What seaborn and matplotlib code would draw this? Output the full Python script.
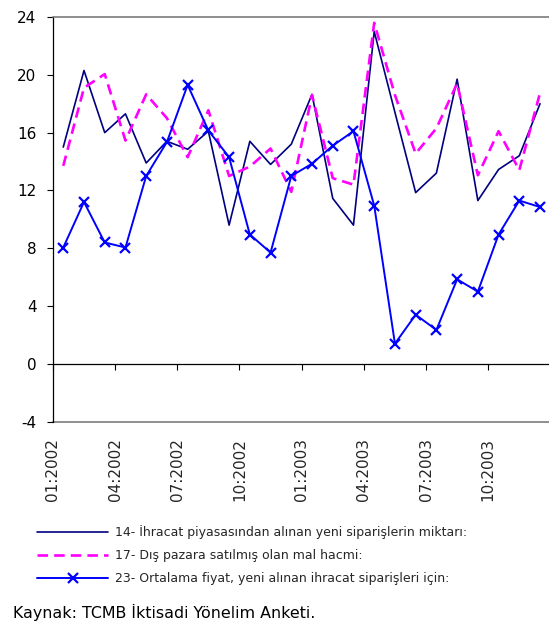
import matplotlib
matplotlib.use("Agg")
import matplotlib.pyplot as plt
import seaborn as sns
import pandas as pd
import numpy as np

# Monthly survey balances, January 2002 - December 2003
months = ["01:2002", "02:2002", "03:2002", "04:2002", "05:2002", "06:2002",
          "07:2002", "08:2002", "09:2002", "10:2002", "11:2002", "12:2002",
          "01:2003", "02:2003", "03:2003", "04:2003", "05:2003", "06:2003",
          "07:2003", "08:2003", "09:2003", "10:2003", "11:2003", "12:2003"]

new_export_orders = [15.0, 20.3, 16.0, 17.3, 13.9, 15.4, 14.85, 16.1, 9.6, 15.4, 13.8, 15.2,
                     18.65, 11.45, 9.6, 23.0, 17.4, 11.85, 13.2, 19.7, 11.3, 13.45, 14.4, 18.0]
export_volume = [13.7, 19.1, 20.05, 15.45, 18.65, 17.0, 14.3, 17.55, 13.0, 13.65, 14.9, 11.9,
                 18.6, 12.85, 12.4, 23.6, 18.6, 14.55, 16.3, 19.4, 13.05, 16.1, 13.4, 18.75]
avg_export_price = [8.05, 11.2, 8.4, 8.05, 13.0, 15.35, 19.3, 16.15, 14.3, 8.95, 7.7, 13.0,
                    13.85, 15.1, 16.1, 10.95, 1.4, 3.4, 2.35, 5.85, 5.0, 8.95, 11.3, 10.85]

series_labels = [
    "14- İhracat piyasasından alınan yeni siparişlerin miktarı:",
    "17- Dış pazara satılmış olan mal hacmi:",
    "23- Ortalama fiyat, yeni alınan ihracat siparişleri için:",
]
source_note = "Kaynak: TCMB İktisadi Yönelim Anketi."

df = pd.DataFrame({
    "pos": np.arange(len(months)),
    "month": months,
    "s14": new_export_orders,
    "s17": export_volume,
    "s23": avg_export_price,
})

sns.set_style("ticks")
plt.rcParams["font.family"] = ["DejaVu Sans"]
plt.rcParams["axes.unicode_minus"] = False

fig = plt.figure(figsize=(5.49, 6.27), dpi=100)
ax = fig.add_axes([0.09636, 0.32743, 0.9062, 0.64546])

sns.lineplot(data=df, x="pos", y="s14", ax=ax, color="#000080", linewidth=1.2,
             label=series_labels[0])
sns.lineplot(data=df, x="pos", y="s17", ax=ax, color="#FF00FF", linewidth=1.9,
             linestyle=(0, (4, 2.3)), label=series_labels[1])
sns.lineplot(data=df, x="pos", y="s23", ax=ax, color="#0000FF", linewidth=1.4,
             marker="x", markersize=6.5, markeredgewidth=1.6,
             markeredgecolor="#0000FF", markerfacecolor="#0000FF",
             label=series_labels[2])

ax.set_xlim(-0.5, 23.5)
ax.set_ylim(-4, 24)
ax.set_xlabel("")
ax.set_ylabel("")

# value axis
ax.set_yticks(range(-4, 25, 4))
ax.tick_params(axis="y", length=4.3, width=0.8, direction="out", pad=7.5,
               labelsize=11, colors="black")

# category axis crosses at zero; labels sit under the plot frame
tick_pos = np.arange(-0.5, 23.0, 3)
ax.spines["bottom"].set_position(("data", 0))
ax.spines["bottom"].set_color("black")
ax.spines["bottom"].set_linewidth(0.9)
ax.set_xticks(tick_pos)
ax.tick_params(axis="x", length=4, width=0.8, direction="out", labelbottom=False,
               colors="black")

sec = ax.secondary_xaxis("bottom")
sec.set_xticks(tick_pos, labels=months[0::3])
sec.tick_params(length=0, pad=12, labelsize=11, labelrotation=90)
sec.spines["bottom"].set_color("#707070")
sec.spines["bottom"].set_linewidth(1.1)

ax.spines["left"].set_color("black")
ax.spines["left"].set_linewidth(0.9)
ax.spines["top"].set_visible(True)
ax.spines["top"].set_color("#707070")
ax.spines["top"].set_linewidth(1.1)
ax.spines["right"].set_visible(False)

handles, labels = ax.get_legend_handles_labels()
ax.get_legend().remove()
fig.legend(handles, labels, loc="upper left", bbox_to_anchor=(0.0674, 0.1627),
           frameon=False, fontsize=9, handlelength=5.7, handletextpad=0.55,
           labelspacing=0.8, borderpad=0, borderaxespad=0)

fig.text(13 / 549, 1 - 612 / 627, source_note, fontsize=11.4, va="center", ha="left",
         color="black")

fig.savefig("out.png", dpi=100)
